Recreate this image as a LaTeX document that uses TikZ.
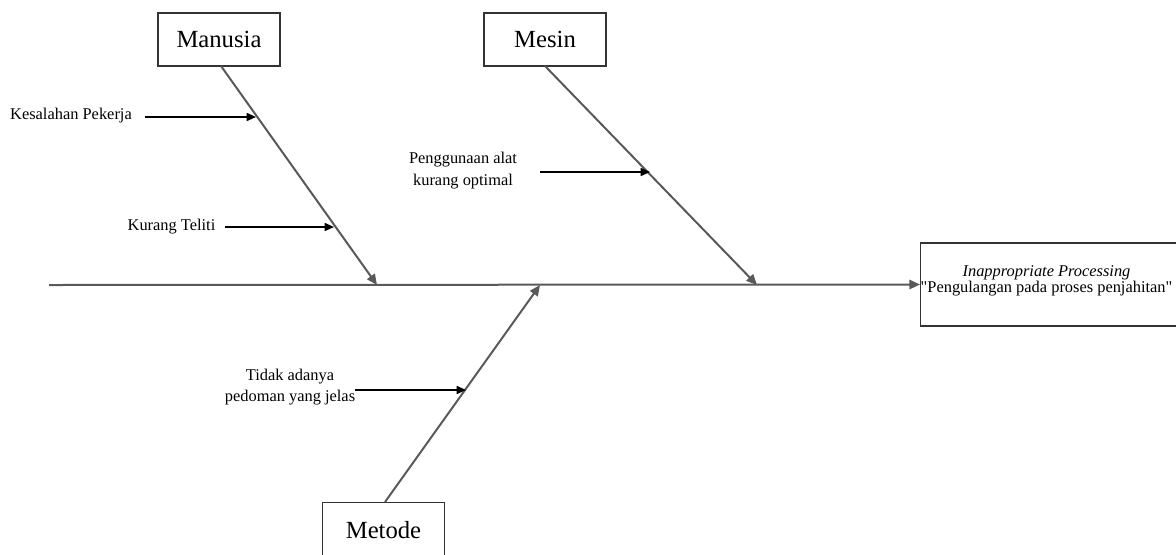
\documentclass[tikz,border=0pt]{standalone}
\usepackage{fontspec}
\setmainfont{Liberation Serif}
\usetikzlibrary{arrows.meta}
\definecolor{bonegray}{HTML}{595959}
\definecolor{boxline}{HTML}{333333}
\tikzset{
  catbox/.style={draw=boxline, line width=1.1pt, fill=white, minimum width=91.5pt, minimum height=39.75pt, inner sep=0pt, font=\fontsize{18.5}{22}\selectfont},
  smalltext/.style={inner sep=0pt, align=center, font=\fontsize{12.3}{16}\selectfont},
  bone/.style={draw=bonegray, line width=1.5pt, -{Triangle[length=8pt,width=7pt]}},
  subarrow/.style={draw=black, line width=1.2pt, -{Triangle[length=7pt,width=6pt]}},
}
\begin{document}
\begin{tikzpicture}[x=0.75pt,y=-0.75pt]
\useasboundingbox (0,0) rectangle (1176,554);
\clip (0,0) rectangle (1176,554);
% category boxes
\node[catbox] (manusia) at (219,39.5) {Manusia};
\node[catbox] (mesin) at (545,39.5) {Mesin};
\node[catbox, minimum height=58.5pt, anchor=north] (metode) at (383.5,502) {};
\node[inner sep=0pt, font=\fontsize{18.5}{22}\selectfont] (metodetext) at (383.5,530) {Metode};
% effect box
\node[draw=boxline, line width=1.1pt, minimum width=202.5pt, minimum height=62.25pt, anchor=west, inner sep=0pt] (effect) at (920,284.5) {};
\node[inner sep=0pt, align=center, font=\fontsize{12.3}{12}\selectfont] (effecttext) at (1046.5,281) {\textit{Inappropriate Processing}\\\textquotedbl Pengulangan pada proses penjahitan\textquotedbl};
% spine
\coordinate (tail) at (49,285);
\coordinate (jm) at (377,285);
\coordinate (js) at (757,285);
\coordinate (jt) at (540,285);
\draw[bone] (tail) -- (effect.west);
% bones
\coordinate (ms) at (221,66);
\coordinate (ss) at (545,66);
\coordinate (ts) at (385,502);
\draw[bone] (ms) -- (jm);
\draw[bone] (ss) -- (js);
\draw[bone] (ts) -- (jt);
% causes
\node[smalltext] (kes) at (71,116) {Kesalahan Pekerja};
\node[smalltext] (kur) at (171.5,227) {Kurang Teliti};
\node[smalltext] (peng) at (463,170.5) {Penggunaan alat\\kurang optimal};
\node[smalltext] (tid) at (290,387) {Tidak adanya\\pedoman yang jelas};
\coordinate (kesstart) at (145,117);
\coordinate (kurstart) at (225,227);
\coordinate (pengstart) at (540,172);
\coordinate (tidstart) at (355,390);
\coordinate (kesend) at (256,117);
\coordinate (kurend) at (334,227);
\coordinate (pengend) at (650,172);
\coordinate (tidend) at (466,390);
\draw[subarrow] (kesstart) -- (kesend);
\draw[subarrow] (kurstart) -- (kurend);
\draw[subarrow] (pengstart) -- (pengend);
\draw[subarrow] (tidstart) -- (tidend);
\end{tikzpicture}
\end{document}
